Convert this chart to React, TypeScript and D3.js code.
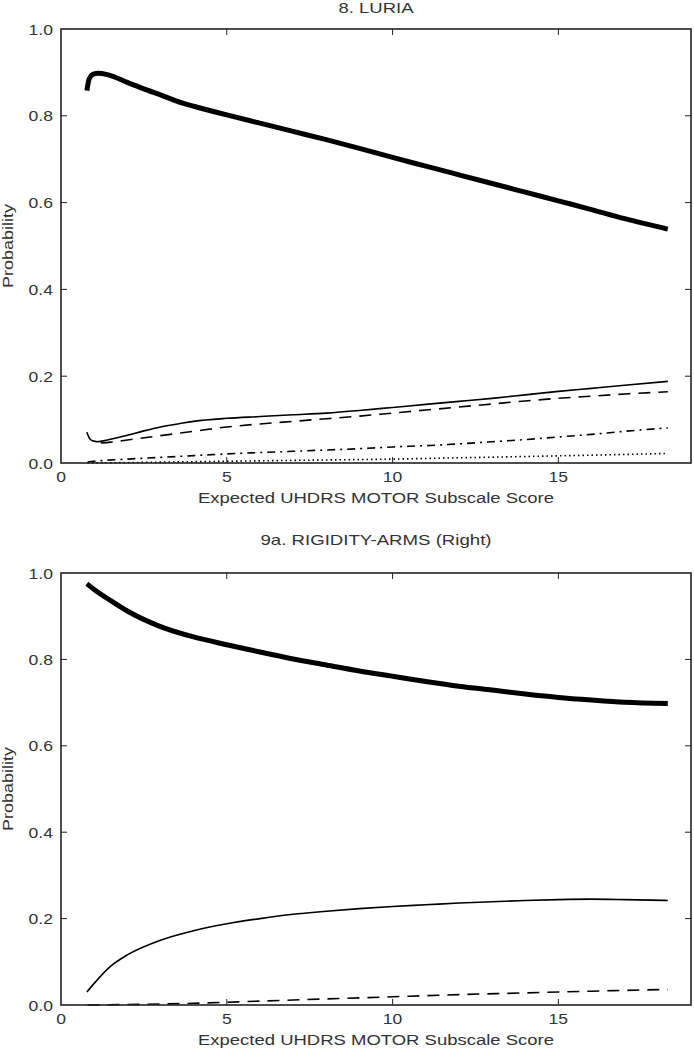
import React from "react";
import * as d3 from "d3";

// ---------- Panel 1: 8. LURIA ----------
const luriaTitle = "8. LURIA";
const luriaThickX = [0.78, 0.85, 0.95, 1.1, 1.4, 2, 2.5, 3, 3.67, 4, 5, 6, 7, 8, 9, 10, 11, 12, 13, 14, 15, 16, 17, 18.3];
const luriaThickY = [0.858, 0.885, 0.895, 0.898, 0.895, 0.877, 0.862, 0.848, 0.829, 0.822, 0.802, 0.783, 0.764, 0.745, 0.725, 0.704, 0.684, 0.664, 0.644, 0.624, 0.604, 0.584, 0.563, 0.539];
const luriaThinX = [0.78, 0.85, 0.95, 1.1, 1.4, 2, 2.5, 3, 3.67, 4, 5, 6, 7, 8, 9, 10, 11, 12, 13, 14, 15, 16, 17, 18.3];
const luriaThinY = [0.071, 0.058, 0.051, 0.049, 0.053, 0.064, 0.074, 0.083, 0.092, 0.096, 0.103, 0.107, 0.111, 0.115, 0.121, 0.128, 0.135, 0.142, 0.149, 0.157, 0.165, 0.172, 0.179, 0.188];
const luriaDashX = [1.2, 1.5, 2, 3, 4, 5, 6, 7, 8, 9, 10, 11, 12, 13, 14, 15, 16, 17, 18.3];
const luriaDashY = [0.046, 0.048, 0.053, 0.063, 0.073, 0.083, 0.09, 0.096, 0.102, 0.108, 0.115, 0.122, 0.129, 0.136, 0.143, 0.149, 0.154, 0.159, 0.164];
const luriaDashDotX = [0.8, 1, 2, 3, 4, 5, 6, 7, 8, 9, 10, 11, 12, 13, 14, 15, 16, 17, 18.3];
const luriaDashDotY = [0.002, 0.004, 0.009, 0.013, 0.017, 0.021, 0.024, 0.027, 0.03, 0.033, 0.037, 0.04, 0.044, 0.049, 0.054, 0.06, 0.066, 0.073, 0.081];
const luriaDotX = [0.8, 2, 4, 6, 8, 10, 12, 14, 16, 18.3];
const luriaDotY = [0.0, 0.001, 0.003, 0.005, 0.007, 0.009, 0.012, 0.015, 0.018, 0.022];

// ---------- Panel 2: 9a. RIGIDITY-ARMS (Right) ----------
const rigidTitle = "9a. RIGIDITY-ARMS (Right)";
const rigidThickX = [0.78, 1, 1.5, 2, 3, 4, 5, 6, 7, 8, 9, 10, 11, 12, 13, 14, 15, 16, 17, 18.3];
const rigidThickY = [0.975, 0.962, 0.936, 0.912, 0.876, 0.852, 0.834, 0.817, 0.801, 0.787, 0.773, 0.761, 0.749, 0.738, 0.729, 0.72, 0.712, 0.706, 0.701, 0.698];
const rigidThinX = [0.78, 1, 1.5, 2, 3, 4, 5, 6, 7, 8, 9, 10, 11, 12, 13, 14, 15, 16, 17, 18.3];
const rigidThinY = [0.03, 0.05, 0.09, 0.116, 0.15, 0.172, 0.188, 0.2, 0.21, 0.217, 0.223, 0.228, 0.232, 0.236, 0.239, 0.242, 0.244, 0.245, 0.244, 0.242];
const rigidDashX = [0.8, 2, 4, 6, 8, 10, 12, 14, 16, 18.3];
const rigidDashY = [0.0, 0.001, 0.004, 0.009, 0.014, 0.019, 0.024, 0.028, 0.032, 0.036];

const xTicks = [0, 5, 10, 15];
const yTicks = [0, 0.2, 0.4, 0.6, 0.8, 1.0];
const xLabel = "Expected UHDRS MOTOR Subscale Score";
const yLabel = "Probability";

type Series = { x: number[]; y: number[]; width: number; dash?: string };

const FONT = "'Liberation Sans', Arial, sans-serif";
const STRETCH = 1.17;
const INK = "#222";
const TEXT = "#333";

function SText({ x, y, anchor, children, size = 15 }: { x: number; y: number; anchor: string; children: React.ReactNode; size?: number }) {
  return (
    <text transform={`translate(${x},${y}) scale(${STRETCH},1)`} textAnchor={anchor} fontSize={size} fontFamily={FONT} fill={TEXT}>
      {children}
    </text>
  );
}

function Panel({ top, bottom, title, titleY, titleLen, series }: { top: number; bottom: number; title: string; titleY: number; titleLen: number; series: Series[] }) {
  const left = 61;
  const right = 691;
  const x = d3.scaleLinear().domain([0, 19]).range([left, right]);
  const y = d3.scaleLinear().domain([0, 1]).range([bottom, top]);
  const tickLen = 6;
  const cx = (left + right) / 2;
  return (
    <g>
      <text x={cx - titleLen / 2} y={titleY} textLength={titleLen} lengthAdjust="spacingAndGlyphs" fontSize={15} fontFamily={FONT} fill={TEXT}>{title}</text>
      {series.map((s, i) => {
        const line = d3.line<number>().x((_, j) => x(s.x[j])).y((v) => y(v)).curve(d3.curveMonotoneX);
        return (
          <path key={i} d={line(s.y) || ""} fill="none" stroke="#000" strokeWidth={s.width} strokeDasharray={s.dash} strokeLinejoin="round" />
        );
      })}
      <rect x={left} y={top} width={right - left} height={bottom - top} fill="none" stroke={INK} strokeWidth={1.6} />
      {xTicks.map((t) => (
        <g key={"x" + t}>
          {t > 0 && <line x1={x(t)} x2={x(t)} y1={bottom} y2={bottom - tickLen} stroke={INK} strokeWidth={1} />}
          {t > 0 && <line x1={x(t)} x2={x(t)} y1={top} y2={top + tickLen} stroke={INK} strokeWidth={1} />}
          <SText x={x(t)} y={bottom + 19} anchor="middle">{t}</SText>
        </g>
      ))}
      {yTicks.map((t) => (
        <g key={"y" + t}>
          {t > 0 && t < 1 && <line x1={left} x2={left + tickLen} y1={y(t)} y2={y(t)} stroke={INK} strokeWidth={1} />}
          {t > 0 && t < 1 && <line x1={right} x2={right - tickLen} y1={y(t)} y2={y(t)} stroke={INK} strokeWidth={1} />}
          <SText x={left - 8} y={y(t) + 5.5} anchor="end">{t.toFixed(1)}</SText>
        </g>
      ))}
      <text x={cx - 178} y={bottom + 40} textLength={356} lengthAdjust="spacingAndGlyphs" fontSize={15.5} fontFamily={FONT} fill={TEXT}>{xLabel}</text>
      <text transform={`translate(13,${(top + bottom) / 2 + 42}) rotate(-90)`} textLength={84} lengthAdjust="spacingAndGlyphs" fontSize={15} fontFamily={FONT} fill={TEXT}>{yLabel}</text>
    </g>
  );
}

export default function App() {
  const luriaSeries: Series[] = [
    { x: luriaThickX, y: luriaThickY, width: 5 },
    { x: luriaThinX, y: luriaThinY, width: 1.6 },
    { x: luriaDashX, y: luriaDashY, width: 1.6, dash: "12,8" },
    { x: luriaDashDotX, y: luriaDashDotY, width: 1.6, dash: "8,5,2,5" },
    { x: luriaDotX, y: luriaDotY, width: 1.6, dash: "1.5,3" },
  ];
  const rigidSeries: Series[] = [
    { x: rigidThickX, y: rigidThickY, width: 5 },
    { x: rigidThinX, y: rigidThinY, width: 1.6 },
    { x: rigidDashX, y: rigidDashY, width: 1.6, dash: "12,8" },
  ];
  return (
    <svg width={694} height={1050} style={{ position: "absolute", left: 0, top: 0, background: "#fff" }}>
      <rect width={694} height={1050} fill="#fff" />
      <Panel top={29} bottom={463} title={luriaTitle} titleY={13} titleLen={75} series={luriaSeries} />
      <Panel top={573} bottom={1005} title={rigidTitle} titleY={545} titleLen={231} series={rigidSeries} />
    </svg>
  );
}
